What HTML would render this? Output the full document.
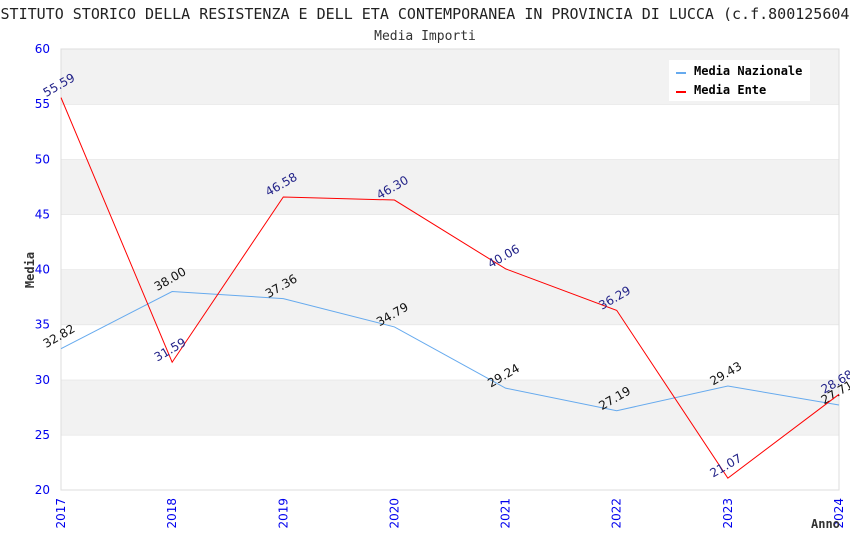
<!DOCTYPE html>
<html><head><meta charset="utf-8"><style>
body{margin:0;background:#fff;width:850px;height:550px;overflow:hidden}
svg{display:block}
text{font-family:"DejaVu Sans Mono","Liberation Mono",monospace}
text.s{font-family:"DejaVu Sans","Liberation Sans",sans-serif}
</style></head><body>
<svg id="c" width="850" height="550"></svg>
<script>
const years=["2017","2018","2019","2020","2021","2022","2023","2024"];
const nazionale=[32.82,38.00,37.36,34.79,29.24,27.19,29.43,27.71];
const ente=[55.59,31.59,46.58,46.30,40.06,36.29,21.07,28.68];
const yTicks=[20,25,30,35,40,45,50,55,60];
const X0=61,X1=839,Y0=490,Y1=49,ymin=20,ymax=60;
const NS="http://www.w3.org/2000/svg";
const svg=document.getElementById('c');
function x(i){return X0+(X1-X0)*i/(years.length-1);}
function y(v){return Y0-(Y0-Y1)*(v-ymin)/(ymax-ymin);}
function mk(t,a,p){const e=document.createElementNS(NS,t);for(const k in a)e.setAttribute(k,a[k]);(p||svg).appendChild(e);return e;}
for(let i=0;i<yTicks.length-1;i++){
  const lo=yTicks[i],hi=yTicks[i+1];
  const r=mk('rect',{x:X0,y:y(hi),width:X1-X0,height:y(lo)-y(hi),fill:(i%2==1)?'#f2f2f2':'#ffffff'});
  
  
  const l=mk('line',{x1:X0,x2:X1,y1:y(hi),y2:y(hi),stroke:'#dddddd','stroke-width':1});
  
  
}
const fr=mk('rect',{x:X0,y:Y1,width:X1-X0,height:Y0-Y1,fill:'none',stroke:'#dddddd'});


yTicks.forEach(v=>{const t=mk('text',{class:'s',x:50,y:y(v)+4,'text-anchor':'end','font-size':12,fill:'#0000ee'});t.textContent=v;

});
years.forEach((yr,i)=>{const t=mk('text',{class:'s',x:0,y:0,'text-anchor':'end','font-size':12,fill:'#0000ee',transform:`translate(${x(i)+4},${Y0+8}) rotate(-90)`});t.textContent=yr;

});
let at=mk('text',{x:0,y:0,'font-size':12,'font-weight':'bold',fill:'#333','text-anchor':'middle',transform:'translate(34,270) rotate(-90)'});at.textContent='Media';


at=mk('text',{x:811,y:528,'font-size':12,'font-weight':'bold',fill:'#333'});at.textContent='Anno';


let tt=mk('text',{x:434,y:19,'text-anchor':'middle','font-size':15,fill:'#222'});tt.textContent='ISTITUTO STORICO DELLA RESISTENZA E DELL ETA CONTEMPORANEA IN PROVINCIA DI LUCCA (c.f.80012560464)';


tt=mk('text',{x:425,y:40,'text-anchor':'middle','font-size':13,fill:'#333'});tt.textContent='Media Importi';


function series(vals,color,lblColor,name){
  const p=mk('polyline',{points:vals.map((v,i)=>x(i)+','+y(v)).join(' '),fill:'none',stroke:color,'stroke-width':1});
  
  
  vals.forEach((v,i)=>{const t=mk('text',{class:'s',x:0,y:0,'font-size':12,fill:lblColor,'text-anchor':'middle',transform:`translate(${x(i)},${y(v)-9}) rotate(-30)`});t.textContent=v.toFixed(2);
  
  });
}
series(nazionale,'#66aaee','#111','media-nazionale');
series(ente,'#ff0000','#222288','media-ente');
const lg=mk('rect',{x:669,y:60,width:141,height:41,fill:'#fff'});


[['Media Nazionale','#66aaee',71],['Media Ente','#ff0000',90]].forEach(([n,c,yy])=>{
  const r=mk('rect',{x:676,y:yy+1,width:10,height:2,fill:c});
  
  
  const t=mk('text',{x:694,y:yy+4,'font-size':12,'font-weight':'bold',fill:'#000'});t.textContent=n;
  
  
});
</script>
</body></html>
